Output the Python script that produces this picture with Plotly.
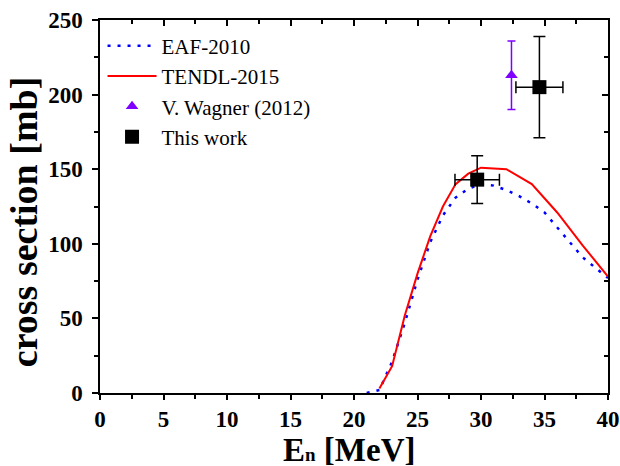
import plotly.graph_objects as go

# EAF-2010 evaluation
eaf_x = [21, 22, 23, 24, 25, 26, 27, 28, 29, 30, 31, 32, 33, 34, 35, 36, 37, 38, 39, 40]
eaf_y = [0, 2, 21, 47, 76, 101, 119, 131, 137, 140, 139, 136, 132, 127, 121, 111, 101, 91, 84, 77]

# TENDL-2015 evaluation
tendl_x = [22, 23, 24, 25, 26, 27, 28, 29, 30, 32, 34, 36, 38, 40]
tendl_y = [3, 18, 52, 80, 105, 125, 140, 147, 151, 150, 140, 121, 99, 78]

# V. Wagner (2012)
wag_x = [32.4]
wag_y = [213]
wag_err = [23]

# This work
tw_x = [29.7, 34.6]
tw_y = [143, 205]
tw_yerr = [16, 34]
tw_xerr = [1.75, 1.85]

FONT = "Liberation Serif"

fig = go.Figure()
fig.add_trace(go.Scatter(x=eaf_x, y=eaf_y, mode="lines", name="EAF-2010",
                         line=dict(color="#0000FF", width=2.5, dash="3px,7px")))
fig.add_trace(go.Scatter(x=tendl_x, y=tendl_y, mode="lines", name="TENDL-2015",
                         line=dict(color="#FF0000", width=2)))
fig.add_trace(go.Scatter(x=wag_x, y=wag_y, mode="markers", name="V. Wagner (2012)",
                         marker=dict(symbol="triangle-up", size=11, color="#8000FF"),
                         error_y=dict(type="data", array=wag_err, color="#8000FF",
                                      thickness=1.5, width=4)))
fig.add_trace(go.Scatter(x=tw_x, y=tw_y, mode="markers", name="This work",
                         marker=dict(symbol="square", size=14, color="black"),
                         error_y=dict(type="data", array=tw_yerr, color="black",
                                      thickness=1.5, width=6),
                         error_x=dict(type="data", array=tw_xerr, color="black",
                                      thickness=1.5, width=6)))
# helper (empty) trace that anchors the mirrored top/right axes
fig.add_trace(go.Scatter(x=[None], y=[None], xaxis="x2", yaxis="y2",
                         showlegend=False, hoverinfo="skip"))

tickfont = dict(family=FONT, size=23, color="black", weight="bold")
base = dict(showline=True, linecolor="black", linewidth=1.5, showgrid=False,
            zeroline=False, tickwidth=1.5, tickcolor="black", automargin=False)

fig.update_layout(
    width=620, height=466,
    margin=dict(l=100, r=12, t=20, b=73),
    paper_bgcolor="white", plot_bgcolor="white",
    showlegend=True,
    xaxis=dict(range=[0, 40], dtick=5, tick0=0, ticks="outside", ticklen=5,
               ticklabelstandoff=0,
               minor=dict(ticks="outside", ticklen=4, dtick=2.5, tickcolor="black", tickwidth=1.5),
               tickfont=tickfont, **base),
    yaxis=dict(range=[0, 250], dtick=50, tick0=0, ticks="outside", ticklen=6,
               ticklabelstandoff=5,
               minor=dict(ticks="outside", ticklen=4, dtick=25, tickcolor="black", tickwidth=1.5),
               tickfont=tickfont, **base),
    xaxis2=dict(range=[0, 40], dtick=5, tick0=0, ticks="inside", ticklen=6, overlaying="x",
                side="top", anchor="y", showticklabels=False,
                minor=dict(ticks="inside", ticklen=4, dtick=2.5, tickcolor="black", tickwidth=1.5),
                **base),
    yaxis2=dict(range=[0, 250], dtick=50, tick0=0, ticks="inside", ticklen=6, overlaying="y",
                side="right", anchor="x", showticklabels=False,
                minor=dict(ticks="inside", ticklen=4, dtick=25, tickcolor="black", tickwidth=1.5),
                **base),
    legend=dict(x=0.005, y=0.985, xanchor="left", yanchor="top",
                bgcolor="rgba(0,0,0,0)", borderwidth=0,
                font=dict(family=FONT, size=21, color="black"),
                itemwidth=49, tracegroupgap=0),
    annotations=[
        dict(text="E<span style='font-size:19px'>n</span> [MeV]", xref="paper", yref="paper",
             x=0.49, y=-0.153, xanchor="center", yanchor="middle", showarrow=False,
             font=dict(family=FONT, size=33, color="black", weight="bold")),
        dict(text="cross section [mb]", xref="paper", yref="paper",
             x=-0.148, y=0.46, xanchor="center", yanchor="middle", textangle=-90,
             showarrow=False,
             font=dict(family=FONT, size=38, color="black", weight="bold")),
    ],
)

fig.write_html("out.html")
